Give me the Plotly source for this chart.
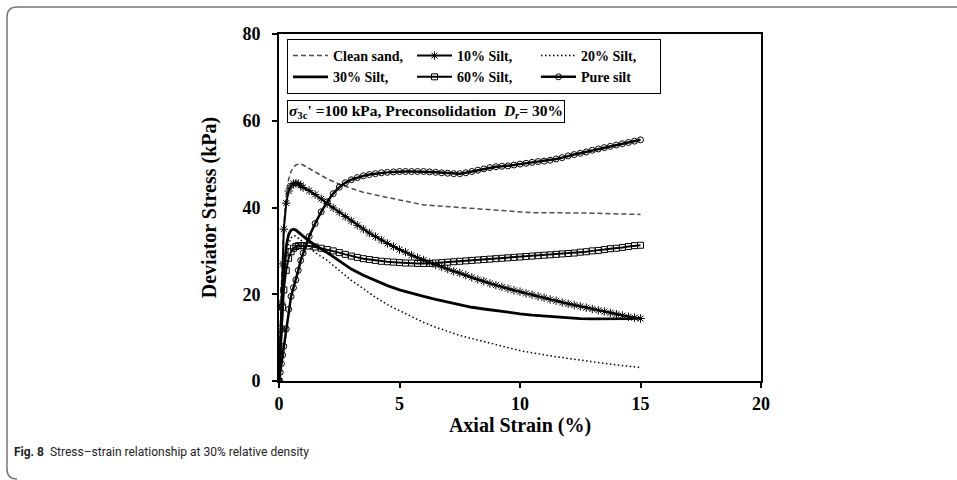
import plotly.graph_objects as go

# ---------------- data ----------------
strain_coarse = [0, 0.1, 0.2, 0.3, 0.4, 0.5, 0.6, 0.7, 0.8, 0.9, 1.0, 1.2, 1.5, 2, 2.5, 3, 3.5, 4,
                 4.5, 5, 5.5, 6, 6.5, 7, 7.5, 8, 8.5, 9, 9.5, 10, 10.5, 11, 11.5, 12, 12.5, 13,
                 13.5, 14, 14.5, 15]

clean_sand = [0, 22, 36, 43, 46.5, 48.3, 49.3, 49.8, 50.0, 50.0, 49.8, 49.2, 48.2, 46.6, 45.4, 44.4,
              43.5, 42.9, 42.3, 41.7, 41.1, 40.6, 40.4, 40.2, 40.0, 39.7, 39.5, 39.3, 39.1, 38.9,
              38.8, 38.8, 38.8, 38.8, 38.7, 38.7, 38.6, 38.5, 38.4, 38.4]

silt20 = [0, 12, 22, 28, 31.5, 33.0, 33.5, 33.4, 33.0, 32.5, 32.0, 31.0, 29.6, 27.8, 25.4, 23.2,
          21.3, 19.3, 17.6, 16.2, 14.9, 13.5, 12.4, 11.4, 10.5, 9.8, 9.1, 8.3, 7.6, 7.0, 6.5,
          6.0, 5.6, 5.2, 4.8, 4.4, 4.0, 3.7, 3.4, 3.1]

silt30 = [0, 14, 25, 31, 33.8, 34.8, 35.0, 34.8, 34.4, 33.9, 33.4, 32.5, 31.3, 29.6, 27.6, 25.8,
          24.4, 23.2, 22.0, 21.0, 20.2, 19.5, 18.8, 18.2, 17.6, 17.0, 16.6, 16.2, 15.8, 15.5,
          15.2, 15.0, 14.8, 14.5, 14.4, 14.3, 14.3, 14.3, 14.4, 14.5]

strain_fine = [0, 0.05, 0.1, 0.15, 0.2, 0.3, 0.4, 0.5, 0.6, 0.7, 0.8, 0.9, 1.0,
               1.25, 1.5, 1.75, 2.0, 2.25, 2.5, 2.75, 3.0, 3.25, 3.5, 3.75, 4.0,
               4.25, 4.5, 4.75, 5.0, 5.25, 5.5, 5.75, 6.0, 6.25, 6.5, 6.75, 7.0,
               7.25, 7.5, 7.75, 8.0, 8.25, 8.5, 8.75, 9.0, 9.25, 9.5, 9.75, 10.0,
               10.25, 10.5, 10.75, 11.0, 11.25, 11.5, 11.75, 12.0, 12.25, 12.5, 12.75, 13.0,
               13.25, 13.5, 13.75, 14.0, 14.25, 14.5, 14.75, 15.0]

silt10 = [0, 8, 18, 27, 35, 41, 43.8, 45.0, 45.5, 45.6, 45.5, 45.1, 44.6,
          43.9, 43.0, 42.0, 40.9, 39.9, 38.9, 37.9, 36.9, 35.9, 35.0, 34.1, 33.3,
          32.5, 31.7, 31.0, 30.3, 29.7, 29.0, 28.4, 27.9, 27.3, 26.8, 26.3, 25.8,
          25.3, 24.9, 24.4, 23.9, 23.4, 23.0, 22.5, 22.1, 21.7, 21.3, 20.9, 20.6,
          20.2, 19.9, 19.5, 19.2, 18.8, 18.5, 18.1, 17.8, 17.5, 17.2, 16.9, 16.6,
          16.3, 16.0, 15.7, 15.4, 15.1, 14.8, 14.6, 14.4]

silt60 = [0, 6, 12, 17, 21, 25.5, 28.3, 29.8, 30.6, 31.0, 31.2, 31.2, 31.2,
          31.1, 30.9, 30.6, 30.3, 30.0, 29.6, 29.2, 28.8, 28.5, 28.2, 28.0, 27.8,
          27.6, 27.5, 27.4, 27.3, 27.2, 27.2, 27.1, 27.1, 27.1, 27.2, 27.3, 27.4,
          27.5, 27.6, 27.7, 27.8, 27.9, 28.0, 28.1, 28.2, 28.3, 28.4, 28.5, 28.6,
          28.7, 28.8, 28.9, 29.0, 29.1, 29.2, 29.3, 29.4, 29.5, 29.7, 29.8, 30.0,
          30.1, 30.3, 30.5, 30.6, 30.8, 31.0, 31.2, 31.3]

pure_silt = [0, 2, 4, 6, 8, 12, 16.5, 19.5, 21.5, 23.3, 25.5, 27.8, 29.5,
             33.3, 36.3, 39.0, 41.3, 43.2, 44.7, 45.7, 46.4, 46.9, 47.3, 47.6, 47.8,
             48.0, 48.1, 48.2, 48.3, 48.3, 48.3, 48.3, 48.3, 48.2, 48.1, 48.0, 47.9,
             47.8, 47.8, 48.0, 48.3, 48.6, 48.9, 49.2, 49.4, 49.5, 49.6, 49.8, 50.0,
             50.2, 50.4, 50.6, 50.7, 50.9, 51.2, 51.5, 51.9, 52.2, 52.5, 52.8, 53.2,
             53.5, 53.8, 54.1, 54.4, 54.7, 55.0, 55.3, 55.6]

x_ticks = [0, 5, 10, 15, 20]
y_ticks = [0, 20, 40, 60, 80]

# ---------------- layout geometry (pixels) ----------------
W, H = 957, 480
L, R, T, B = 279, 761, 34, 381


def px(x):
    return (x - L) / (R - L)


def py(y):
    return (B - y) / (B - T)


serif = "Liberation Serif"

fig = go.Figure()

fig.add_trace(go.Scatter(x=strain_coarse, y=clean_sand, mode="lines", name="Clean sand,",
                         line=dict(color="#4d4d4d", width=1.5, dash="5px,3px")))
fig.add_trace(go.Scatter(x=strain_fine, y=silt10, mode="lines+markers", name="10% Silt,",
                         line=dict(color="black", width=2),
                         marker=dict(symbol="asterisk-open", size=7,
                                     line=dict(color="black", width=1))))
fig.add_trace(go.Scatter(x=strain_coarse, y=silt20, mode="lines", name="20% Silt,",
                         line=dict(color="black", width=1.5, dash="1.5px,2.5px")))
fig.add_trace(go.Scatter(x=strain_coarse, y=silt30, mode="lines", name="30% Silt,",
                         line=dict(color="black", width=2.8)))
fig.add_trace(go.Scatter(x=strain_fine, y=silt60, mode="lines+markers", name="60% Silt,",
                         line=dict(color="black", width=2),
                         marker=dict(symbol="square-open", size=6,
                                     line=dict(color="black", width=1))))
fig.add_trace(go.Scatter(x=strain_fine, y=pure_silt, mode="lines+markers", name="Pure silt",
                         line=dict(color="black", width=2.5),
                         marker=dict(symbol="circle-open", size=6,
                                     line=dict(color="black", width=1))))

axis_common = dict(
    showgrid=False, zeroline=False, showline=True, linecolor="black", linewidth=2,
    mirror=True, ticks="outside", ticklen=5, tickwidth=1.5, tickcolor="black",
    tickfont=dict(family=serif, size=18, color="black", weight="bold"),
)

fig.update_xaxes(range=[0, 20], tickvals=x_ticks, ticktext=[str(v) for v in x_ticks],
                 title=dict(text="Axial Strain (%)", standoff=4,
                            font=dict(family=serif, size=20, color="black", weight="bold")),
                 **axis_common)
fig.update_yaxes(range=[0, 80], tickvals=y_ticks, ticktext=[str(v) for v in y_ticks],
                 ticklabelstandoff=8,
                 title=dict(text="Deviator Stress (kPa)", standoff=20,
                            font=dict(family=serif, size=20, color="black", weight="bold")),
                 **axis_common)

frame_pts = [(957, 7), (17, 7), (7, 7), (7, 17), (7, 469), (7, 479), (17, 479)]
fp = [(px(a), py(b)) for a, b in frame_pts]
frame_path = (f"M {fp[0][0]},{fp[0][1]} L {fp[1][0]},{fp[1][1]} "
              f"Q {fp[2][0]},{fp[2][1]} {fp[3][0]},{fp[3][1]} "
              f"L {fp[4][0]},{fp[4][1]} Q {fp[5][0]},{fp[5][1]} {fp[6][0]},{fp[6][1]}")

fig.update_layout(
    width=W, height=H,
    margin=dict(l=L, r=W - R, t=T, b=H - B, pad=0),
    paper_bgcolor="white", plot_bgcolor="white",
    showlegend=True,
    legend=dict(
        orientation="h", x=px(287), y=py(39), xanchor="left", yanchor="top",
        bordercolor="black", borderwidth=1, bgcolor="white",
        font=dict(family=serif, size=14, color="black", weight="bold"),
        entrywidth=74, entrywidthmode="pixels", itemwidth=35,
        traceorder="normal",
    ),
    annotations=[
        dict(xref="paper", yref="paper", x=px(287), y=py(100), xanchor="left", yanchor="top",
             text="<b><i>σ</i><sub>3c</sub>' =100 kPa, Preconsolidation  <i>D<sub>r</sub></i>= 30%</b>",
             showarrow=False, bordercolor="black", borderwidth=1, borderpad=1, bgcolor="white",
             font=dict(family=serif, size=15.5, color="black")),
        dict(xref="paper", yref="paper", x=px(12), y=py(452), xanchor="left", yanchor="middle",
             text="<b>Fig. 8</b>  Stress–strain relationship at 30% relative density",
             showarrow=False,
             font=dict(family="Roboto", size=12, color="#222222")),
    ],
    shapes=[
        dict(type="path", xref="paper", yref="paper", path=frame_path,
             line=dict(color="#777777", width=1.5), layer="below"),
    ],
)

fig.write_html("out.html")
